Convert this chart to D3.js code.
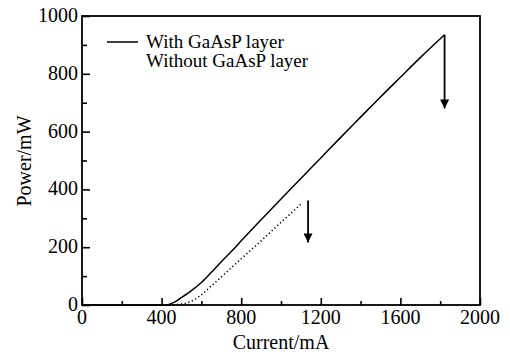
<!DOCTYPE html>
<html>
<head>
<meta charset="utf-8">
<script src="https://cdn.jsdelivr.net/npm/d3@7"></script>
<style>
    body { margin: 0; background: #fff; }
    #chart text { font-family: "Times New Roman", Times, "Liberation Serif", "DejaVu Serif", serif; }
</style>
</head>
<body>
<svg id="chart" width="510" height="355"></svg>
<script>
var X_TICKS = [0, 400, 800, 1200, 1600, 2000],
    Y_TICKS = [0, 200, 400, 600, 800, 1000],
    SERIES_NAMES = ["With GaAsP layer", "Without GaAsP layer"],
    // current (mA) / power (mW)
    withCurrent = [0, 420, 460, 500, 550, 600, 650, 700, 760, 800, 900, 1000, 1100, 1200, 1300, 1400, 1500, 1600, 1700, 1822],
    withPower = [0, 0, 8, 26, 50, 78, 113, 150, 192, 222, 295, 367, 438, 509, 580, 650, 720, 788, 856, 935],
    withoutCurrent = [440, 480, 540, 600, 640, 700, 800, 900, 1000, 1105],
    withoutPower = [0, 2, 10, 35, 60, 97, 160, 222, 286, 352],
    // arrows: x (mA), from (mW), to (mW)
    arrowX = [1822, 1136],
    arrowFrom = [935, 362],
    arrowTo = [680, 216];

(function () {
    "use strict";
    var svg = d3.select("#chart"),
        left = 82, right = 480, top = 16, bottom = 305,
        x = d3.scaleLinear().domain([0, 2000]).range([left, right]),
        y = d3.scaleLinear().domain([0, 1000]).range([bottom, top]),
        line = d3.line().curve(d3.curveMonotoneX)
            .x(function (d) { return x(d[0]); }).y(function (d) { return y(d[1]); }),
        withData = d3.zip(withCurrent, withPower),
        withoutData = d3.zip(withoutCurrent, withoutPower),
        xAxis, yAxis;

    svg.append("defs").append("marker")
        .attr("id", "head")
        .attr("viewBox", "0 0 10 10")
        .attr("refX", 10).attr("refY", 5)
        .attr("markerWidth", 10).attr("markerHeight", 9)
        .attr("markerUnits", "userSpaceOnUse")
        .attr("orient", "auto")
        .append("path").attr("d", "M0,0 L10,5 L0,10 Z").attr("fill", "#000");

    // minor ticks first, then the major ones on top
    xAxis = svg.append("g").attr("transform", "translate(0," + bottom + ")");
    xAxis.call(d3.axisTop(x).tickValues(d3.range(200, 2000, 400)).tickSize(4).tickFormat(""));
    xAxis.append("g").call(d3.axisTop(x).tickValues(X_TICKS).tickSize(7).tickFormat(""));
    xAxis.selectAll(".domain").remove();

    yAxis = svg.append("g").attr("transform", "translate(" + left + ",0)");
    yAxis.call(d3.axisRight(y).tickValues(d3.range(100, 1000, 200)).tickSize(5).tickFormat(""));
    yAxis.append("g").call(d3.axisRight(y).tickValues(Y_TICKS).tickSize(8).tickFormat(""));
    yAxis.selectAll(".domain").remove();
    svg.selectAll(".tick line").attr("stroke", "#000").attr("stroke-width", 1.6);

    svg.append("rect")
        .attr("x", left).attr("y", top)
        .attr("width", right - left).attr("height", bottom - top)
        .attr("fill", "none").attr("stroke", "#000").attr("stroke-width", 1.8);

    svg.selectAll(".xlab").data(X_TICKS).enter().append("text")
        .attr("x", function (d) { return x(d); }).attr("y", 324)
        .attr("text-anchor", "middle").attr("font-size", 20)
        .text(function (d) { return d; });

    svg.selectAll(".ylab").data(Y_TICKS).enter().append("text")
        .attr("x", left - 4).attr("y", function (d) { return y(d) + 6; })
        .attr("text-anchor", "end").attr("font-size", 20)
        .text(function (d) { return d; });

    svg.append("text").attr("x", 281).attr("y", 349)
        .attr("text-anchor", "middle").attr("font-size", 20)
        .text("Current/mA");
    svg.append("text").attr("transform", "translate(31,161) rotate(-90)")
        .attr("text-anchor", "middle").attr("font-size", 20)
        .text("Power/mW");

    svg.append("path").datum(withData).attr("d", line)
        .attr("fill", "none").attr("stroke", "#000").attr("stroke-width", 1.5);
    svg.append("path").datum(withoutData).attr("d", line)
        .attr("fill", "none").attr("stroke", "#000").attr("stroke-width", 1.6)
        .attr("stroke-dasharray", "1.2,2.6");

    svg.selectAll(".arrow").data(arrowX).enter().append("line")
        .attr("x1", function (d) { return x(d); }).attr("x2", function (d) { return x(d); })
        .attr("y1", function (d, i) { return y(arrowFrom[i]); })
        .attr("y2", function (d, i) { return y(arrowTo[i]); })
        .attr("stroke", "#000").attr("stroke-width", 1.8)
        .attr("marker-end", "url(#head)");

    // legend: only the solid series shows a sample line
    svg.append("line").attr("x1", 107).attr("x2", 138).attr("y1", 42).attr("y2", 42)
        .attr("stroke", "#000").attr("stroke-width", 1.5);
    svg.selectAll(".leg").data(SERIES_NAMES).enter().append("text")
        .attr("x", 146).attr("y", function (d, i) { return 48 + i * 19; })
        .attr("font-size", 19)
        .text(function (d) { return d; });
}());
</script>
</body>
</html>
